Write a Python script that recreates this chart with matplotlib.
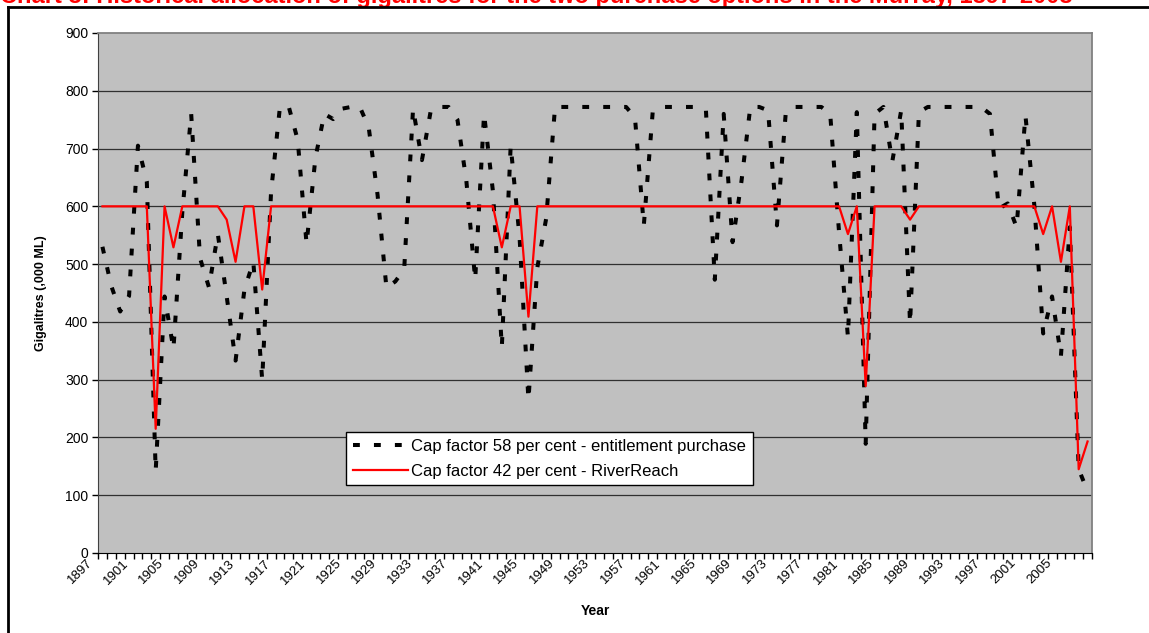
import numpy as np
import matplotlib
matplotlib.use("Agg")
import matplotlib.pyplot as plt
import matplotlib.transforms as mtransforms
from matplotlib.lines import Line2D

plt.rcParams['font.family'] = ['Liberation Sans', 'DejaVu Sans']

# Years 1897 - 2008
years = list(range(1897, 2009))

# Cap factor 58 per cent - entitlement purchase (GL)
cap58 = [
    530, 462, 418, 445, 705, 643, 142, 444, 353, 590,
    760, 510, 460, 552, 444, 333, 456, 504, 300, 625,
    772, 772, 715, 535, 684, 760, 751, 769, 772, 772,
    737, 620, 459, 470, 491, 769, 680, 766, 772, 772,
    750, 645, 473, 760, 626, 356, 705, 547, 265, 494,
    579, 772, 772, 772, 772, 772, 772, 772, 772, 772,
    754, 567, 763, 772, 772, 772, 772, 772, 766, 473,
    760, 538, 643, 772, 772, 766, 567, 763, 772, 772,
    772, 772, 760, 555, 374, 763, 189, 760, 772, 678,
    766, 397, 763, 772, 772, 772, 772, 772, 772, 772,
    760, 596, 605, 564, 757, 602, 380, 444, 341, 564,
    145, 107,
]

# Cap factor 42 per cent - RiverReach (GL)
cap42 = [
    600, 600, 600, 600, 600, 600, 215, 600, 529, 600,
    600, 600, 600, 600, 577, 504, 600, 600, 456, 600,
    600, 600, 600, 600, 600, 600, 600, 600, 600, 600,
    600, 600, 600, 600, 600, 600, 600, 600, 600, 600,
    600, 600, 600, 600, 600, 529, 600, 600, 409, 600,
    600, 600, 600, 600, 600, 600, 600, 600, 600, 600,
    600, 600, 600, 600, 600, 600, 600, 600, 600, 600,
    600, 600, 600, 600, 600, 600, 600, 600, 600, 600,
    600, 600, 600, 600, 552, 600, 289, 600, 600, 600,
    600, 577, 600, 600, 600, 600, 600, 600, 600, 600,
    600, 600, 600, 600, 600, 600, 552, 600, 504, 600,
    145, 193,
]

label58 = "Cap factor 58 per cent - entitlement purchase"
label42 = "Cap factor 42 per cent - RiverReach"
title = ("Chart 3: Historical allocation of gigalitres for the two purchase "
         "options in the Murray, 1897-2008")

W, H = 1149, 633
fig = plt.figure(figsize=(W / 100, H / 100), dpi=100)
fig.patch.set_facecolor('white')

# plot area in pixels
x0, x1, ytop, ybot = 98, 1092, 33, 553
ax = fig.add_axes([x0 / W, (H - ybot) / H, (x1 - x0) / W, (ybot - ytop) / H])
ax.set_facecolor('#C0C0C0')

idx = np.arange(len(years))
ax.plot(idx, cap58, color='black', lw=2.9, dashes=(1.7, 3.5),
        dash_capstyle='butt', solid_joinstyle='miter', label=label58, zorder=3)
ax.plot(idx, cap42, color='#FF0000', lw=1.6, label=label42, zorder=4)

ax.set_xlim(-0.5, len(years) - 0.5)
ax.set_ylim(0, 900)

# y axis
ax.set_yticks(np.arange(0, 901, 100))
ax.tick_params(axis='y', direction='out', length=4, width=1, colors='black',
               labelsize=10, pad=3)
for v in range(100, 900, 100):
    ax.axhline(v, color='#303030', lw=0.9, zorder=1)

# x axis: ticks between categories, labels every 4 years
ax.set_xticks(np.arange(-0.5, len(years), 1.0))
ax.set_xticklabels([])
ax.tick_params(axis='x', which='major', direction='out', length=4, width=1)
lab_pos = idx[::4]
ax.set_xticks(lab_pos, minor=True)
ax.set_xticklabels([str(years[i]) for i in lab_pos], minor=True,
                   rotation=45, ha='right', va='top', fontsize=9.5)
ax.tick_params(axis='x', which='minor', length=0, pad=3)
shift = mtransforms.ScaledTranslation(-7 / 100, 0, fig.dpi_scale_trans)
for t in ax.get_xticklabels(minor=True):
    t.set_transform(t.get_transform() + shift)

for s in ['top', 'right']:
    ax.spines[s].set_color('#808080')
    ax.spines[s].set_linewidth(1.3)
ax.spines['left'].set_color('#404040')
ax.spines['bottom'].set_color('black')

ax.set_ylabel('Gigalitres (,000 ML)', fontsize=9, fontweight='bold')
ax.yaxis.set_label_coords(-0.051, 0.5)
ax.set_xlabel('Year', fontsize=10, fontweight='bold')
ax.xaxis.set_label_coords(0.5, -0.098)

leg = ax.legend(loc='upper left', bbox_to_anchor=(0.2495, 0.2327),
                borderaxespad=0, fontsize=12, frameon=True, fancybox=False,
                framealpha=1, edgecolor='black', handlelength=3.3,
                handletextpad=0.2, borderpad=0.4, labelspacing=0.6)
leg.get_frame().set_linewidth(1.0)

# outer frame and clipped title (the reference shows only its lower edge)
fig.add_artist(Line2D([8 / W, 1.0], [1 - 6.5 / H, 1 - 6.5 / H], color='black',
                      lw=2, transform=fig.transFigure))
fig.add_artist(Line2D([8 / W, 8 / W], [0, 1 - 6.5 / H], color='black',
                      lw=2, transform=fig.transFigure))
fig.text(0.0, 1 - 2.5 / H, title, color='#FF0000', fontsize=17,
         fontweight='bold', ha='left', va='baseline', zorder=0)

fig.savefig('out.png', dpi=100)
